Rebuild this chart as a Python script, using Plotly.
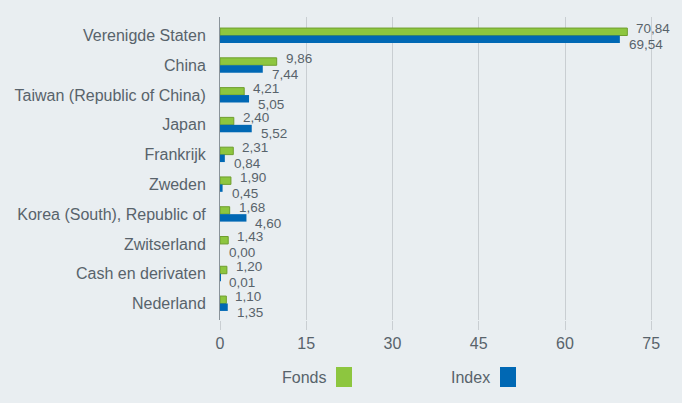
import plotly.graph_objects as go

categories = ["Verenigde Staten", "China", "Taiwan (Republic of China)", "Japan", "Frankrijk",
              "Zweden", "Korea (South), Republic of", "Zwitserland", "Cash en derivaten", "Nederland"]
fonds = [70.84, 9.86, 4.21, 2.40, 2.31, 1.90, 1.68, 1.43, 1.20, 1.10]
index = [69.54, 7.44, 5.05, 5.52, 0.84, 0.45, 4.60, 0.00, 0.01, 1.35]
tick_vals = [0, 15, 30, 45, 60, 75]

GREEN = "#8dc63f"
BLUE = "#0068b4"
BG = "#e9eef1"
TXT = "#58636b"
FONT = "Liberation Sans, Arial, sans-serif"

W, H = 682, 403
L, R, T, B = 220, 2, 17, 83
PW, PH = W - L - R, H - T - B

def fmt(v):
    return f"{v:.2f}".replace(".", ",")

fig = go.Figure()
fig.add_trace(go.Bar(y=categories, x=fonds, orientation="h", name="Fonds",
                     marker=dict(color=GREEN, line=dict(color="#6f9e2e", width=1))))
fig.add_trace(go.Bar(y=categories, x=index, orientation="h", name="Index",
                     marker=dict(color=BLUE, line=dict(width=0))))

ann = []
for c, f, i in zip(categories, fonds, index):
    ann.append(dict(x=f, y=c, text=fmt(f), showarrow=False, xanchor="left", yanchor="middle",
                    xshift=7, yshift=7, font=dict(size=13.5, color=TXT, family=FONT)))
    ann.append(dict(x=i, y=c, text=fmt(i), showarrow=False, xanchor="left", yanchor="middle",
                    xshift=7, yshift=-9, font=dict(size=13.5, color=TXT, family=FONT)))

def px(xp):
    return (xp - L) / PW

def py(yp):
    return (H - B - yp) / PH

shapes = []
legend_items = [("Fonds", GREEN, 328, 336), ("Index", BLUE, 492, 500)]
for name, col, text_right, sw_left in legend_items:
    ann.append(dict(x=px(text_right), y=py(377), xref="paper", yref="paper", text=name,
                    showarrow=False, xanchor="right", yanchor="middle",
                    font=dict(size=16, color=TXT, family=FONT)))
    shapes.append(dict(type="rect", xref="paper", yref="paper",
                       x0=px(sw_left), x1=px(sw_left + 16), y0=py(387), y1=py(367),
                       fillcolor=col, line=dict(width=0)))

fig.update_layout(
    width=W, height=H,
    margin=dict(l=L, r=R, t=T, b=B),
    paper_bgcolor=BG, plot_bgcolor=BG,
    barmode="group", bargap=0.5, bargroupgap=0,
    showlegend=False,
    annotations=ann, shapes=shapes,
    font=dict(family=FONT, color=TXT),
    xaxis=dict(range=[0, 80], tickvals=tick_vals, ticktext=[str(v) for v in tick_vals],
               showgrid=True, gridcolor="#c9ced2", gridwidth=1, zeroline=False,
               ticks="outside", ticklen=9, tickcolor="#c9ced2", showline=False,
               tickfont=dict(size=16, color=TXT, family=FONT)),
    yaxis=dict(autorange="reversed", showgrid=False, showline=True, linecolor="#8a939a",
               linewidth=1, ticks="", ticklabelstandoff=10,
               tickfont=dict(size=16, color=TXT, family=FONT)),
)

fig.write_html("out.html", config={"displayModeBar": False},
               post_script="document.body.style.margin='0';document.body.style.background='" + BG + "';")
